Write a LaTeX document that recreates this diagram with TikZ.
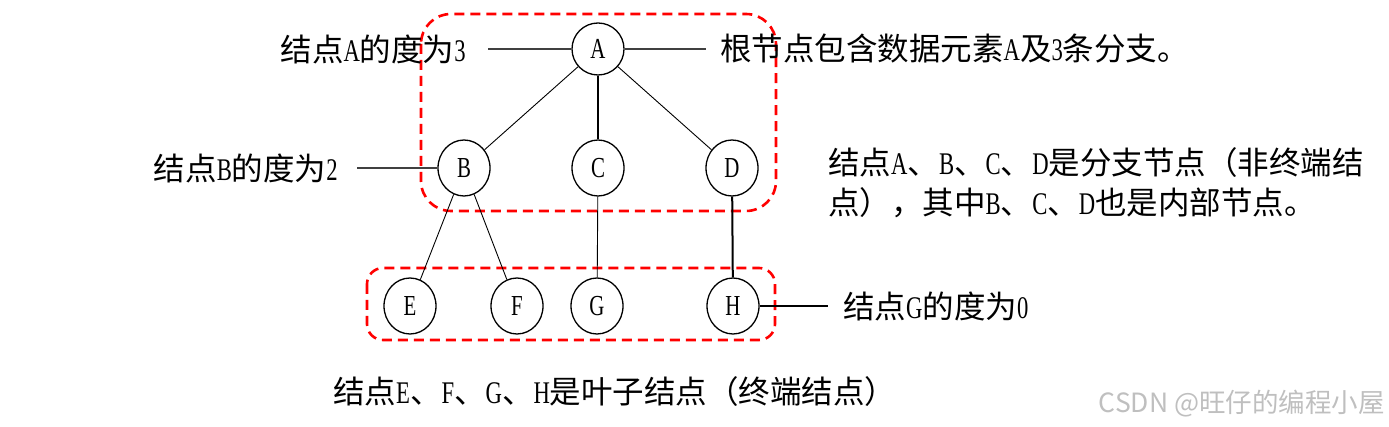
\documentclass[tikz,border=0pt]{standalone}
\usepackage{fontspec}
\usetikzlibrary{shapes.geometric}
\setmainfont{Liberation Serif}
\newfontfamily\cjk{Noto Sans CJK SC}
\newfontfamily\lat[FakeStretch=0.72]{Liberation Serif}
\newcommand{\lx}[1]{{\lat #1}}
\begin{document}
\begin{tikzpicture}[x=1pt,y=-1pt,
  tn/.style={draw,ellipse,line width=1.3pt,minimum width=52pt,minimum height=56pt,inner sep=0pt,font=\lat\fontsize{29}{31}\selectfont},
  lbl/.style={font=\cjk\fontsize{31.5}{36}\selectfont,inner sep=0pt},
  thin/.style={line width=0.9pt},
  thick/.style={line width=2pt},
  gline/.style={line width=1.3pt,black!75},
  redbox/.style={draw=red,line width=2.6pt,dash pattern=on 10pt off 6pt}]
\useasboundingbox (0,0) rectangle (1389,427);
% red dashed groups
\draw[redbox,rounded corners=30pt] (421,14) rectangle (776,211);
\draw[redbox,rounded corners=16pt] (367,268) rectangle (775,340);
% nodes
\node[tn,minimum height=52pt] (A) at (598,49) {A};
\node[tn] (B) at (464,168) {B};
\node[tn] (C) at (598,168) {C};
\node[tn] (D) at (732,168) {D};
\node[tn] (E) at (410,306) {E};
\node[tn] (F) at (517,306) {F};
\node[tn] (G) at (597,306) {G};
\node[tn] (H) at (733,306) {H};
% edges
\draw[thin] (A) -- (B);
\draw[thick] (A) -- (C);
\draw[thin] (A) -- (D);
\draw[thin] (B) -- (E);
\draw[thin] (B) -- (F);
\draw[thin] (C) -- (G);
\draw[thick] (D) -- (H);
% labels
\node[lbl,anchor=east] (la) at (466,49) {结点\lx{A}的度为\lx{3}};
\coordinate (la1) at (488,49);
\draw[gline] (la1) -- (A.west);
\node[lbl,anchor=west] (ra) at (720,49) {根节点包含数据元素\lx{A}及\lx{3}条分支。};
\coordinate (ra1) at (706,49);
\draw[gline] (A.east) -- (ra1);
\node[lbl,anchor=east] (lb) at (338,168) {结点\lx{B}的度为\lx{2}};
\coordinate (lb1) at (357,168);
\draw[gline] (lb1) -- (B.west);
\node[lbl,anchor=west] (rh) at (843,306) {结点\lx{G}的度为\lx{0}};
\coordinate (rh1) at (828,306);
\draw[thick] (H.east) -- (rh1);
\node[lbl,anchor=west] (t1) at (828,163) {结点\lx{A}、\lx{B}、\lx{C}、\lx{D}是分支节点（非终端结};
\node[lbl,anchor=west] (t2) at (828,203) {点），其中\lx{B}、\lx{C}、\lx{D}也是内部节点。};
\node[lbl,anchor=west] (t3) at (333,392) {结点\lx{E}、\lx{F}、\lx{G}、\lx{H}是叶子结点（终端结点）};
\node[font=\cjk\fontsize{26.5}{30}\selectfont,text=black!25,anchor=east,inner sep=0pt] (wm) at (1385,404) {CSDN @旺仔的编程小屋};
\end{tikzpicture}
\end{document}
